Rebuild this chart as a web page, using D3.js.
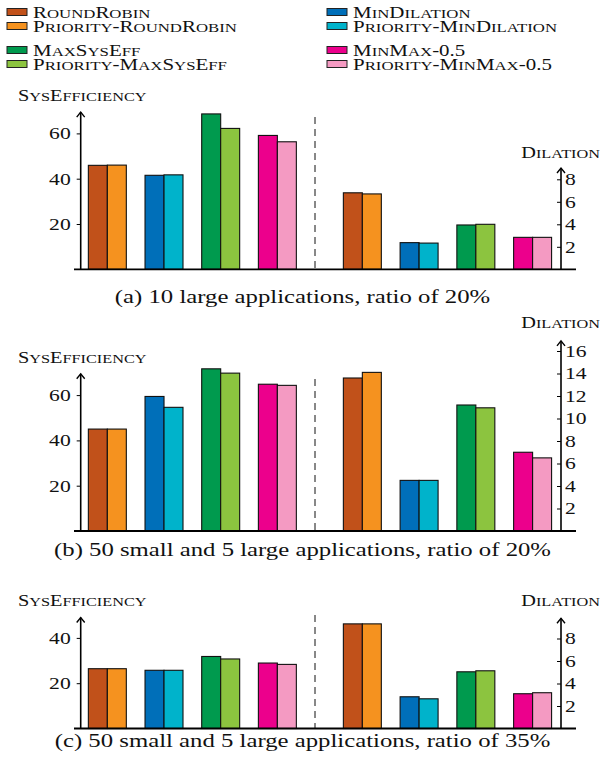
<!DOCTYPE html>
<html>
<head>
<meta charset="utf-8">
<script src="https://cdn.jsdelivr.net/npm/d3@7"></script>
<style>
  body { margin: 0; background: #fff; }
  svg text { font-family: "Liberation Serif", "DejaVu Serif", serif; fill: #111; }
</style>
</head>
<body>
<svg id="chart" width="603" height="767"></svg>
<script>
// algorithms (groups) and their legend names
const groups = ["RoundRobin", "MinDilation", "MaxSysEff", "MinMax-0.5"];
const variants = ["base", "priority"];
const legendNames = [
  ["RoundRobin", "Priority-RoundRobin"],
  ["MinDilation", "Priority-MinDilation"],
  ["MaxSysEff", "Priority-MaxSysEff"],
  ["MinMax-0.5", "Priority-MinMax-0.5"]
];
const colors = [
  ["#c1511a", "#f5921f"],
  ["#006fb9", "#00b3cb"],
  ["#009a4e", "#8cc43f"],
  ["#ec008c", "#f49ac2"]
];

// (a) 10 large applications, ratio of 20%
const effA      = [45.9, 41.5, 68.6, 59.1];
const effAPrio  = [46.0, 41.7, 62.2, 56.3];
const dilA      = [6.8, 2.37, 3.94, 2.84];
const dilAPrio  = [6.7, 2.33, 4.0, 2.84];

// (b) 50 small and 5 large applications, ratio of 20%
const effB      = [45.0, 59.4, 71.6, 64.8];
const effBPrio  = [45.0, 54.6, 69.7, 64.3];
const dilB      = [13.6, 4.5, 11.2, 7.0];
const dilBPrio  = [14.1, 4.5, 10.95, 6.5];

// (c) 50 small and 5 large applications, ratio of 35%
const effC      = [26.4, 25.7, 31.8, 28.9];
const effCPrio  = [26.4, 25.7, 30.7, 28.3];
const dilC      = [9.3, 2.82, 5.04, 3.09];
const dilCPrio  = [9.3, 2.64, 5.13, 3.18];

const effTicksAB = [20, 40, 60];
const effTicksC = [20, 40];
const dilTicksA = [2, 4, 6, 8];
const dilTicksB = [2, 4, 6, 8, 10, 12, 14, 16];
const dilTicksC = [2, 4, 6, 8];

const captions = [
  "(a) 10 large applications, ratio of 20%",
  "(b) 50 small and 5 large applications, ratio of 20%",
  "(c) 50 small and 5 large applications, ratio of 35%"
];

const panels = [
  { eff: [effA, effAPrio], dil: [dilA, dilAPrio], effMax: 69.4, dilMax: 9.0,
    effTicks: effTicksAB, dilTicks: dilTicksA, base: 269.3, dashTop: 117,
    effLabelY: 101, dilLabelY: 158, caption: captions[0], captionY: 303 },
  { eff: [effB, effBPrio], dil: [dilB, dilBPrio], effMax: 69.4, dilMax: 16.9,
    effTicks: effTicksAB, dilTicks: dilTicksB, base: 531, dashTop: 379,
    effLabelY: 363, dilLabelY: 328, caption: captions[1], captionY: 556 },
  { eff: [effC, effCPrio], dil: [dilC, dilCPrio], effMax: 49, dilMax: 9.8,
    effTicks: effTicksC, dilTicks: dilTicksC, base: 728.5, dashTop: 615,
    effLabelY: 606, dilLabelY: 606, caption: captions[2], captionY: 747 }
];

const svg = d3.select("#chart");

// the picture is wider than tall compared to the source, so text is stretched
const stretch = 1.27;
const serif = '"Liberation Serif", "DejaVu Serif", serif';

const leftAxisX = 80.7, rightAxisX = 561;
const effPx = 45.3 / 20, dilPx = 11.25;

const xLeft = d3.scaleBand().domain(groups).range([79, 305.7])
  .paddingInner(0.33).paddingOuter(0.165);
const xRight = d3.scaleBand().domain(groups).range([334, 561])
  .paddingInner(0.33).paddingOuter(0.165);
const xInner = d3.scaleBand().domain(variants).range([0, xLeft.bandwidth()]);

// text placed at (x,y), stretched horizontally around its anchor
function label(g, x, y, size, anchor) {
  return g.append("text")
    .attr("transform", `translate(${x},${y}) scale(${stretch},1)`)
    .attr("text-anchor", anchor || "start")
    .style("font-family", serif)
    .style("font-size", size + "px");
}

// small caps by hand: lowercase letters become smaller capitals
function smallCaps(t, str, size) {
  const runs = [];
  for (const ch of str) {
    const low = ch !== ch.toUpperCase();
    const last = runs[runs.length - 1];
    if (last && last.low === low) last.s += ch;
    else runs.push({ low, s: ch });
  }
  runs.forEach((r) => {
    t.append("tspan")
      .style("font-size", (r.low ? size * 0.8 : size) + "px")
      .text(r.s.toUpperCase());
  });
  return t;
}

function arrowAxis(g, x, y0, y1) {
  g.append("line").attr("x1", x).attr("x2", x).attr("y1", y0).attr("y2", y1)
    .attr("stroke", "#000").attr("stroke-width", 1.6);
  g.append("path")
    .attr("d", `M${x - 4},${y1 + 5}L${x},${y1}L${x + 4},${y1 + 5}`)
    .attr("fill", "none").attr("stroke", "#000").attr("stroke-width", 1.4);
}

function stretchTicks(axisG) {
  axisG.select(".domain").remove();
  axisG.attr("font-family", null).attr("font-size", null);
  axisG.selectAll(".tick text").each(function () {
    const t = d3.select(this);
    const x = +t.attr("x");
    t.attr("x", 0)
      .attr("transform", `translate(${x},0) scale(${stretch},1)`)
      .style("font-family", serif)
      .style("font-size", "17px")
      .style("fill", "#111");
  });
}

function bars(g, data, xs, y) {
  groups.forEach((grp, i) => {
    variants.forEach((v, j) => {
      const val = data[j][i];
      g.append("rect")
        .attr("x", xs(grp) + xInner(v))
        .attr("y", y(val))
        .attr("width", xInner.bandwidth())
        .attr("height", y(0) - y(val))
        .attr("fill", colors[i][j])
        .attr("stroke", "#111")
        .attr("stroke-width", 1.1);
    });
  });
}

panels.forEach((p) => {
  const g = svg.append("g");
  const yEff = d3.scaleLinear().domain([0, p.effMax]).range([p.base, p.base - p.effMax * effPx]);
  const yDil = d3.scaleLinear().domain([0, p.dilMax]).range([p.base, p.base - p.dilMax * dilPx]);

  bars(g, p.eff, xLeft, yEff);
  bars(g, p.dil, xRight, yDil);

  // dashed separator
  g.append("line").attr("x1", 315).attr("x2", 315)
    .attr("y1", p.dashTop).attr("y2", p.base)
    .attr("stroke", "#111").attr("stroke-width", 1).attr("stroke-dasharray", "7,5");

  // left axis
  const la = g.append("g").attr("transform", `translate(${leftAxisX},0)`)
    .call(d3.axisLeft(yEff).tickValues(p.effTicks).tickSize(4).tickPadding(6));
  stretchTicks(la);
  arrowAxis(g, leftAxisX, p.base, yEff(p.effMax));

  // right axis
  const ra = g.append("g").attr("transform", `translate(${rightAxisX},0)`)
    .call(d3.axisRight(yDil).tickValues(p.dilTicks).tickSizeInner(-4).tickSizeOuter(0).tickPadding(4));
  stretchTicks(ra);
  arrowAxis(g, rightAxisX, p.base, yDil(p.dilMax));

  // baseline
  g.append("line").attr("x1", 74).attr("x2", 576)
    .attr("y1", p.base).attr("y2", p.base)
    .attr("stroke", "#000").attr("stroke-width", 1.8);

  smallCaps(label(g, 18, p.effLabelY, 16), "SysEfficiency", 16);
  smallCaps(label(g, 600, p.dilLabelY, 16, "end"), "Dilation", 16);

  label(g, 302.5, p.captionY, 19.5, "middle").text(p.caption);
});

// legend: two columns, pairs of rows
const legend = svg.append("g");
const colX = [7, 327];
const rowY = [12, 26, 50, 64];
legendNames.forEach((pair, i) => {
  const cx = colX[i % 2];
  const r0 = Math.floor(i / 2) * 2;
  pair.forEach((name, j) => {
    const cy = rowY[r0 + j];
    legend.append("rect").attr("x", cx).attr("y", cy - 3.5)
      .attr("width", 20).attr("height", 7)
      .attr("fill", colors[i][j]).attr("stroke", "#222").attr("stroke-width", 1);
    smallCaps(label(legend, cx + 26, cy + 5.5, 16.5), name, 16.5);
  });
});
</script>
</body>
</html>
